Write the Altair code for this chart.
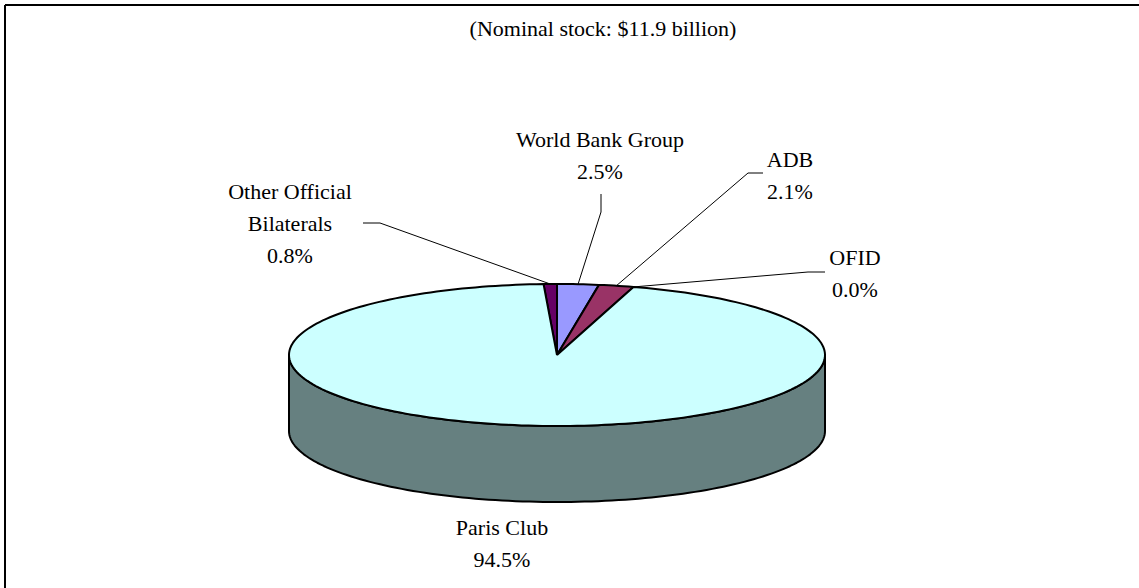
import math
import pandas as pd
import altair as alt

# ---- data ----
categories = ["Other Official Bilaterals", "World Bank Group", "ADB", "OFID", "Paris Club"]
shares = [0.8, 2.5, 2.1, 0.0, 94.5]
label_lines = [["Other Official", "Bilaterals"], ["World Bank Group"], ["ADB"], ["OFID"], ["Paris Club"]]
title_text = "(Nominal stock: $11.9 billion)"

# ---- style / layout ----
top_colors = ["#660066", "#9999FF", "#993366", "#FFFFCC", "#CCFFFF"]
side_colors = ["#330033", "#4D4D80", "#4D1A33", "#808066", "#668080"]
W, H = 1139, 588
CX, CY, RX, RY, DEPTH = 557, 355, 268, 71, 76
START_DEG = -2.88
FONT = "Liberation Serif, Times New Roman, serif"
FS = 22
LINE_H = 32
# label block anchor (center x, first-line y) and leader line label-side points
label_pos = [(290, 192), (600, 140), (790, 160), (855, 258), (502, 528)]
leader_pts = [[(363, 223), (380, 223)], [(601, 194), (601, 212)],
              [(763, 173), (748, 173)], [(825, 272), (808, 272)], None]
title_pos = (603, 29)

total = sum(shares)


def pt(deg, dy=0.0):
    t = math.radians(deg)
    return CX + RX * math.sin(t), CY - RY * math.cos(t) + dy


# slice angle ranges
ranges = []
a = START_DEG
for s in shares:
    b = a + s / total * 360.0
    ranges.append((a, b))
    a = b

top_rows, side_rows, leader_rows, text_rows = [], [], [], []
for i, (cat, (a0, a1)) in enumerate(zip(categories, ranges)):
    # top face polygon
    pts = [(CX, CY)]
    n = max(2, int((a1 - a0) / 1.5) + 2)
    for k in range(n + 1):
        pts.append(pt(a0 + (a1 - a0) * k / n))
    pts.append((CX, CY))
    for j, (x, y) in enumerate(pts):
        top_rows.append({"cat": cat, "i": j, "x": x, "y": y})
    # visible front wall
    lo, hi = max(a0, 90.0), min(a1, 270.0)
    if hi > lo:
        n = max(2, int((hi - lo) / 1.5) + 2)
        arc = [lo + (hi - lo) * k / n for k in range(n + 1)]
        spts = [pt(d) for d in arc] + [pt(d, DEPTH) for d in reversed(arc)]
        spts.append(spts[0])
        for j, (x, y) in enumerate(spts):
            side_rows.append({"cat": cat, "i": j, "x": x, "y": y})
    # leader line
    if leader_pts[i] is not None:
        mid = (a0 + a1) / 2.0
        lp = leader_pts[i] + [pt(mid)]
        for j, (x, y) in enumerate(lp):
            leader_rows.append({"cat": cat, "i": j, "x": x, "y": y})
    # label text
    lines = label_lines[i] + [f"{shares[i]:.1f}%"]
    lx, ly = label_pos[i]
    for j, t in enumerate(lines):
        text_rows.append({"t": t, "x": lx, "y": ly + j * LINE_H})

text_rows.append({"t": title_text, "x": title_pos[0], "y": title_pos[1]})

top_df = pd.DataFrame(top_rows)
side_df = pd.DataFrame(side_rows)
leader_df = pd.DataFrame(leader_rows)
text_df = pd.DataFrame(text_rows)

xs = alt.Scale(domain=[0, W], nice=False, zero=False)
ys = alt.Scale(domain=[0, H], nice=False, zero=False, reverse=True)
X = alt.X("x:Q", scale=xs, axis=None)
Y = alt.Y("y:Q", scale=ys, axis=None)

layers = []
for i, cat in enumerate(categories):
    d = side_df[side_df["cat"] == cat] if len(side_df) else side_df
    if len(d):
        layers.append(
            alt.Chart(d).mark_line(fill=side_colors[i], stroke="black", strokeWidth=2,
                                   strokeJoin="round")
            .encode(x=X, y=Y, order=alt.Order("i:Q"))
        )
for i, cat in enumerate(categories):
    if shares[i] <= 0:
        continue
    d = top_df[top_df["cat"] == cat]
    layers.append(
        alt.Chart(d).mark_line(fill=top_colors[i], stroke="black", strokeWidth=2,
                               strokeJoin="round")
        .encode(x=X, y=Y, order=alt.Order("i:Q"))
    )

layers.append(
    alt.Chart(leader_df).mark_line(color="black", strokeWidth=1)
    .encode(x=X, y=Y, order=alt.Order("i:Q"), detail="cat:N")
)
layers.append(
    alt.Chart(text_df).mark_text(font=FONT, fontSize=FS, color="black",
                                 align="center", baseline="middle")
    .encode(x=X, y=Y, text="t:N")
)
# chart border (top and left edges visible in the reference)
border = alt.Chart(pd.DataFrame({"k": [0]}))
layers.append(border.mark_rule(color="black", strokeWidth=2).encode(
    x=alt.value(5), x2=alt.value(W), y=alt.value(5), y2=alt.value(5)))
layers.append(border.mark_rule(color="black", strokeWidth=2).encode(
    x=alt.value(5), x2=alt.value(5), y=alt.value(5), y2=alt.value(H)))

chart = alt.layer(*layers).properties(
    width=W, height=H, autosize="none", padding=0, background="white"
).configure_view(stroke=None)

chart.save("out.html", embed_options={"renderer": "svg", "actions": False})
